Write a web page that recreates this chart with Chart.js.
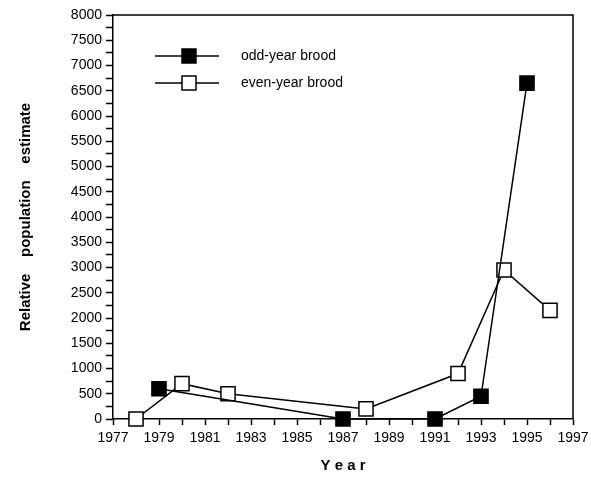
<!DOCTYPE html>
<html>
<head>
<meta charset="utf-8">
<script src="https://cdn.jsdelivr.net/npm/chart.js@4.4.0/dist/chart.umd.min.js"></script>
<style>
	html, body { margin:0; padding:0; background:#fff; }
	#wrap { width:591px; height:479px; }
</style>
</head>
<body>
<div id="wrap"><canvas id="chart" width="591" height="479"></canvas></div>
<script>
//DATA
var oddYears = [1979, 1987, 1991, 1993, 1995];
var oddValues = [600, 0, 0, 450, 6650];
var evenYears = [1978, 1980, 1982, 1988, 1992, 1994, 1996];
var evenValues = [0, 700, 500, 200, 900, 2950, 2150];
var seriesNames = ['odd-year brood', 'even-year brood'];

function toPoints(xs, ys){
	var pts = new Array();
	for(var i=0;i<xs.length;i++){
		pts[i] = {x: xs[i], y: ys[i]};
	}
	return pts;
}

var FONT = "'Liberation Sans', Arial, sans-serif";

// box round plot + legend inside plot
var boxPlugin = {
	id: 'boxLegend',
	afterDraw: function(chart){
		var c = chart.ctx;
		var a = chart.chartArea;
		c.save();
		c.strokeStyle = '#000';
		c.lineWidth = 1.5;
		c.beginPath();
		c.moveTo(a.left, a.top);
		c.lineTo(a.right, a.top);
		c.lineTo(a.right, a.bottom);
		c.stroke();

		// legend
		var fills = ['#000', '#fff'];
		for(var i=0;i<2;i++){
			var y = a.top + 41 + i*27;
			var x0 = a.left + 42;
			c.lineWidth = 1.5;
			c.beginPath();
			c.moveTo(x0, y);
			c.lineTo(x0 + 64, y);
			c.stroke();
			c.fillStyle = fills[i];
			c.fillRect(x0 + 27, y - 7, 14, 14);
			c.strokeRect(x0 + 27, y - 7, 14, 14);
			c.fillStyle = '#000';
			c.font = '14px ' + FONT;
			c.textBaseline = 'middle';
			c.fillText(seriesNames[i], x0 + 86, y);
		}
		c.restore();
	}
};

new Chart(document.getElementById('chart'), {
	type: 'line',
	data: {
		datasets: [{
			label: seriesNames[0],
			data: toPoints(oddYears, oddValues),
			borderColor: '#000',
			borderWidth: 1.5,
			pointStyle: 'rect',
			pointRadius: 10,
			pointBackgroundColor: '#000',
			pointBorderColor: '#000',
			pointBorderWidth: 1.5,
			clip: false,
			tension: 0
		},{
			label: seriesNames[1],
			data: toPoints(evenYears, evenValues),
			borderColor: '#000',
			borderWidth: 1.5,
			pointStyle: 'rect',
			pointRadius: 10,
			pointBackgroundColor: '#fff',
			pointBorderColor: '#000',
			pointBorderWidth: 1.5,
			clip: false,
			tension: 0
		}]
	},
	options: {
		responsive: false,
		animation: false,
		layout: { padding: { top: 15, right: 18, left: 0, bottom: 0 } },
		scales: {
			x: {
				type: 'linear',
				min: 1977,
				max: 1997,
				afterFit: function(s){ s.height = 60; s.paddingRight = 0; s.paddingLeft = 0; },
				border: { display: true, color: '#000', width: 1.5 },
				grid: { drawOnChartArea: false, drawTicks: true, tickLength: 6, color: '#000', tickWidth: 1.5 },
				ticks: {
					stepSize: 1,
					autoSkip: false,
					maxRotation: 0,
					color: '#000',
					padding: 5,
					font: { family: FONT, size: 14 },
					callback: function(v){ return (v % 2 == 1) ? String(v) : ''; }
				},
				title: {
					display: true,
					text: 'Y e a r',
					color: '#000',
					padding: { top: 10 },
					font: { family: FONT, size: 15, weight: 'bold' }
				}
			},
			y: {
				min: 0,
				max: 8000,
				afterFit: function(s){ s.width = 113; s.paddingTop = 0; s.paddingBottom = 0; },
				border: { display: true, color: '#000', width: 1.5 },
				grid: { drawOnChartArea: false, drawTicks: true, tickLength: 7, color: '#000', tickWidth: 1.5 },
				ticks: {
					stepSize: 250,
					autoSkip: false,
					color: '#000',
					padding: 4,
					font: { family: FONT, size: 14 },
					callback: function(v){ return (v % 500 == 0) ? String(v) : ''; }
				},
				title: {
					display: true,
					text: 'Relative    population    estimate',
					color: '#000',
					padding: { top: 17, bottom: 0 },
					font: { family: FONT, size: 15, weight: 'bold' }
				}
			}
		},
		plugins: {
			legend: { display: false },
			tooltip: { enabled: false }
		}
	},
	plugins: [boxPlugin]
});
</script>
</body>
</html>
